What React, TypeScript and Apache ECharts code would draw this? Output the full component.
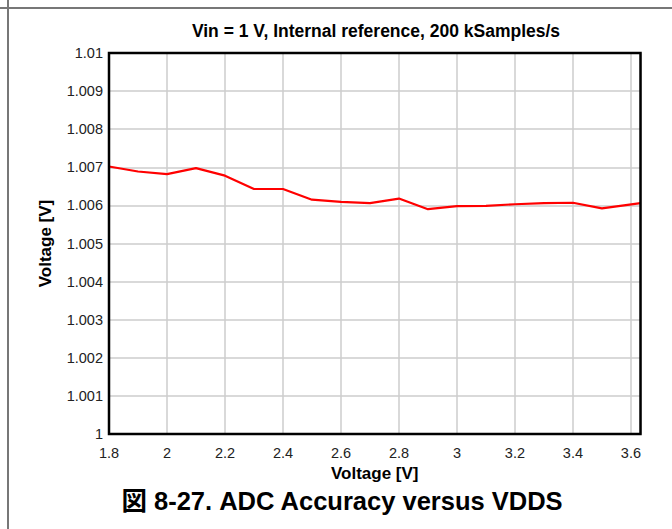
import React, { useEffect, useRef } from "react";
import * as echarts from "echarts";

const vdds = [1.8, 1.9, 2.0, 2.1, 2.2, 2.3, 2.4, 2.5, 2.6, 2.7, 2.8, 2.9, 3.0, 3.1, 3.2, 3.3, 3.4, 3.5, 3.633];
const measured = [1.00702, 1.00689, 1.00682, 1.00698, 1.00678, 1.00643, 1.00643, 1.00615, 1.00609, 1.00606, 1.00618, 1.0059, 1.00598, 1.00599, 1.00603, 1.00606, 1.00607, 1.00592, 1.00606];

const titleText = "Vin = 1 V, Internal reference, 200 kSamples/s";
const axisNameX = "Voltage [V]";
const axisNameY = "Voltage [V]";
const caption = "図 8-27. ADC Accuracy versus VDDS";

const FONT = "Liberation Sans, Arial, sans-serif";

export default function App() {
  const ref = useRef<HTMLDivElement>(null);
  useEffect(() => {
    if (!ref.current) return;
    const chart = echarts.init(ref.current, null, { renderer: "svg" });
    chart.setOption({
      animation: false,
      backgroundColor: "#ffffff",
      title: {
        text: titleText,
        left: 371,
        top: 17,
        textAlign: "center",
        textStyle: { fontFamily: FONT, fontSize: 17.5, fontWeight: "bold", color: "#000" },
      },
      grid: {
        left: 109,
        top: 53,
        right: 31.5,
        bottom: 95,
        show: false,
        containLabel: false,
      },
      xAxis: {
        type: "value",
        min: 1.8,
        max: 3.633,
        interval: 0.2,
        name: axisNameX,
        nameLocation: "middle",
        nameGap: 21,
        nameTextStyle: { fontFamily: FONT, fontSize: 17, fontWeight: "bold", color: "#000" },
        axisLine: { show: false },
        axisTick: { show: false },
        axisLabel: {
          fontFamily: FONT,
          fontSize: 14.5,
          color: "#222",
          margin: 11,
          formatter: (v: number) => {
            const k = Math.round(v / 0.2);
            if (Math.abs(v - k * 0.2) > 1e-6) return "";
            return String(Math.round(v * 10) / 10);
          },
        },
        splitLine: { show: true, lineStyle: { color: "#cccccc", width: 1.5 } },
      },
      yAxis: {
        type: "value",
        min: 1,
        max: 1.01,
        interval: 0.001,
        name: axisNameY,
        nameLocation: "middle",
        nameGap: 55,
        nameTextStyle: { fontFamily: FONT, fontSize: 17, fontWeight: "bold", color: "#000" },
        axisLine: { show: false },
        axisTick: { show: false },
        axisLabel: {
          fontFamily: FONT,
          fontSize: 14.5,
          color: "#222",
          margin: 6,
          formatter: (v: number) => String(Math.round(v * 1000) / 1000),
        },
        splitLine: { show: true, lineStyle: { color: "#cccccc", width: 1.5 } },
      },
      series: [
        {
          type: "line",
          data: vdds.map((x, i) => [x, measured[i]]),
          showSymbol: false,
          lineStyle: { color: "#ff0000", width: 2.2 },
          itemStyle: { color: "#ff0000" },
          z: 3,
        },
      ],
      graphic: [
        {
          type: "rect",
          z: 100,
          shape: { x: 109, y: 53, width: 531.5, height: 381 },
          style: { fill: "none", stroke: "#000", lineWidth: 2.5 },
          silent: true,
        },
        { type: "line", z: 100, shape: { x1: 0, y1: 8, x2: 672, y2: 8 }, style: { stroke: "#777", lineWidth: 2 } },
        { type: "line", z: 100, shape: { x1: 8, y1: 0, x2: 8, y2: 529 }, style: { stroke: "#777", lineWidth: 2 } },
        {
          type: "text",
          z: 100,
          x: 342,
          y: 501,
          style: {
            text: caption,
            textAlign: "center",
            textVerticalAlign: "middle",
            font: "bold 25.5px 'Liberation Sans', Arial, 'Noto Sans CJK JP', sans-serif",
            fill: "#000",
          },
        },
      ],
    });
    return () => chart.dispose();
  }, []);
  return <div ref={ref} style={{ position: "fixed", left: 0, top: 0, width: 672, height: 529 }} />;
}
